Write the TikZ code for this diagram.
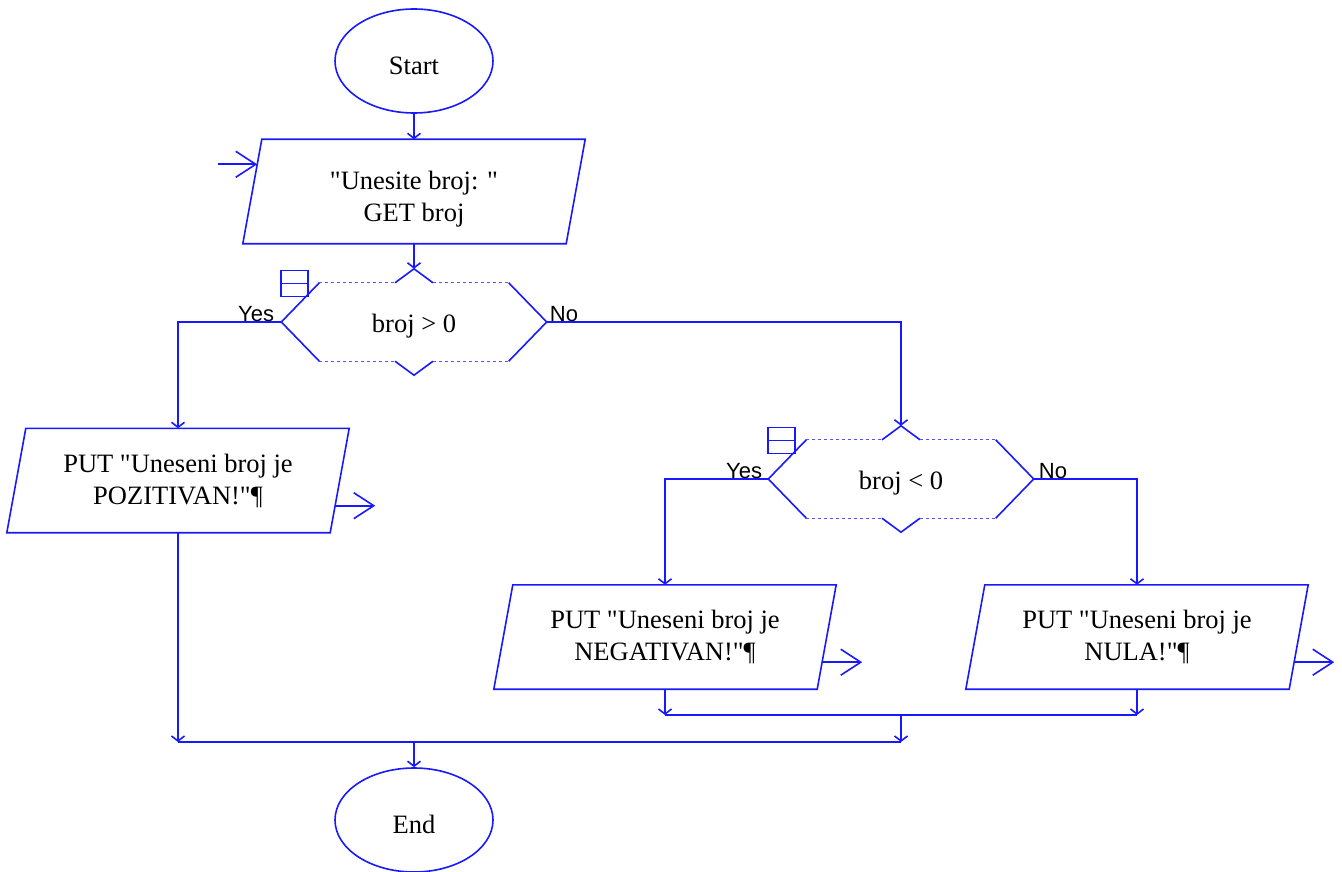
\documentclass[tikz,border=0pt]{standalone}
\usepackage{fontspec}
\setmainfont{Liberation Serif}[Ligatures=TeXOff]
\newfontfamily\branchfont{Liberation Sans}
\usetikzlibrary{shapes.geometric,arrows.meta,calc}
\definecolor{flowblue}{RGB}{25,25,255}

\tikzset{
  flowline/.style={draw=flowblue, line width=1.6pt},
  dotline/.style={draw=flowblue!75, line width=1.3pt, dash pattern=on 3pt off 3pt},
  small tip/.style={-{Straight Barb[length=5pt,width=13pt]}},
  big tip/.style={-{Straight Barb[length=20pt,width=26pt]}},
  nodetext/.style={font=\fontsize{26.5}{32}\selectfont, text=black, align=center, inner sep=0pt,
    execute at begin node={\rule{0pt}{26.5pt}}},
  terminal/.style={nodetext, ellipse, flowline, minimum width=158, minimum height=104},
  iobox/.style={nodetext, minimum width=323, minimum height=104},
  decision/.style={nodetext, minimum width=265, minimum height=78},
  branch/.style={font=\branchfont\fontsize{22}{26}\selectfont, text=black, inner sep=0pt},
  iconbox/.style={draw=flowblue, line width=1.4pt, minimum width=27, minimum height=26, inner sep=0pt},
}

% slanted input/output box around an invisible node
\newcommand\ioframe[1]{%
  \draw[flowline] ($(#1.north west)+(9.5,0)$) -- ($(#1.north east)+(9.5,0)$)
    -- ($(#1.south east)+(-9.5,0)$) -- ($(#1.south west)+(-9.5,0)$) -- cycle;}

% notched hexagon for a decision, with its small loop icon
\newcommand\decisionframe[1]{%
  \draw[flowline] ($(#1.north west)+(38,0)$) -- (#1.west) -- ($(#1.south west)+(38,0)$);
  \draw[flowline] ($(#1.north east)+(-38,0)$) -- (#1.east) -- ($(#1.south east)+(-38,0)$);
  \draw[flowline] ($(#1.north)+(-19,0)$) -- ($(#1.north)+(0,-14)$) -- ($(#1.north)+(19,0)$);
  \draw[flowline] ($(#1.south)+(-19,0)$) -- ($(#1.south)+(0,14)$) -- ($(#1.south)+(19,0)$);
  \draw[dotline] ($(#1.north west)+(38,0)$) -- ($(#1.north)+(-19,0)$);
  \draw[dotline] ($(#1.north)+(19,0)$) -- ($(#1.north east)+(-38,0)$);
  \draw[dotline] ($(#1.south west)+(38,0)$) -- ($(#1.south)+(-19,0)$);
  \draw[dotline] ($(#1.south)+(19,0)$) -- ($(#1.south east)+(-38,0)$);
  \coordinate (#1-in) at ($(#1.north)+(0,-14)$);
  \node[iconbox, anchor=south west] (#1-icon) at ($(#1.west)+(-1,-25)$) {};
  \draw[draw=flowblue, line width=1.4pt] (#1-icon.west) -- (#1-icon.east);
}

\begin{document}
\begin{tikzpicture}[x=1pt,y=-1pt]
\useasboundingbox (0,0) rectangle (1342,872);

% nodes
\node[terminal] (start) at (414,61) {Start};
\node[iobox] (in) at (414,191.5) {\rule{0pt}{33pt}"Unesite broj: "\\GET broj};
\ioframe{in}
\node[decision] (d1) at (414,322) {broj > 0};
\decisionframe{d1}
\node[iobox] (pos) at (178,480.5) {PUT "Uneseni broj je\\POZITIVAN!"¶};
\ioframe{pos}
\node[decision] (d2) at (901,479) {broj < 0};
\decisionframe{d2}
\node[iobox] (neg) at (665,637) {PUT "Uneseni broj je\\NEGATIVAN!"¶};
\ioframe{neg}
\node[iobox] (zero) at (1137,637) {PUT "Uneseni broj je\\NULA!"¶};
\ioframe{zero}
\node[terminal] (end) at (414,820) {End};

% branch labels
\node[branch, anchor=base east] (d1yes) at ($(d1.west)+(-7,-1)$) {Yes};
\node[branch, anchor=base west] (d1no) at ($(d1.east)+(3,-1)$) {No};
\node[branch, anchor=base east] (d2yes) at ($(d2.west)+(-6,-1)$) {Yes};
\node[branch, anchor=base west] (d2no) at ($(d2.east)+(5,-1)$) {No};

% main flow
\draw[flowline, small tip] (start.south) -- (in.north);
\draw[flowline, small tip] (in.south) -- (d1-in);
\draw[flowline, small tip] (d1.west) -| (pos.north);
\draw[flowline, small tip] (d1.east) -| (d2-in);
\draw[flowline, small tip] (d2.west) -| (neg.north);
\draw[flowline, small tip] (d2.east) -| (zero.north);

% input and output ports
\coordinate (in-lead) at ($(in.north west)+(-34.5,25)$);
\coordinate (in-port) at ($(in.north west)+(4.9,25)$);
\draw[flowline, big tip] (in-lead) -- (in-port);
\foreach \port in {pos,neg,zero}{
  \coordinate (\port-port) at ($(\port.south east)+(-4.5,-27)$);
  \coordinate (\port-out) at ($(\port-port)+(40,0)$);
  \draw[flowline, big tip] (\port-port) -- (\port-out);
}

% merging
\coordinate (merge-r) at (901,715);
\coordinate (merge-l) at (414,742);
\draw[flowline, small tip] (neg.south) -- (neg.south |- merge-r);
\draw[flowline, small tip] (zero.south) -- (zero.south |- merge-r);
\draw[flowline] (neg.south |- merge-r) -- (zero.south |- merge-r);
\draw[flowline, small tip] (merge-r) -- (merge-r |- merge-l);
\draw[flowline, small tip] (pos.south) -- (pos.south |- merge-l);
\draw[flowline] (pos.south |- merge-l) -- (merge-r |- merge-l);
\draw[flowline, small tip] (merge-l) -- (end.north);
\end{tikzpicture}
\end{document}
